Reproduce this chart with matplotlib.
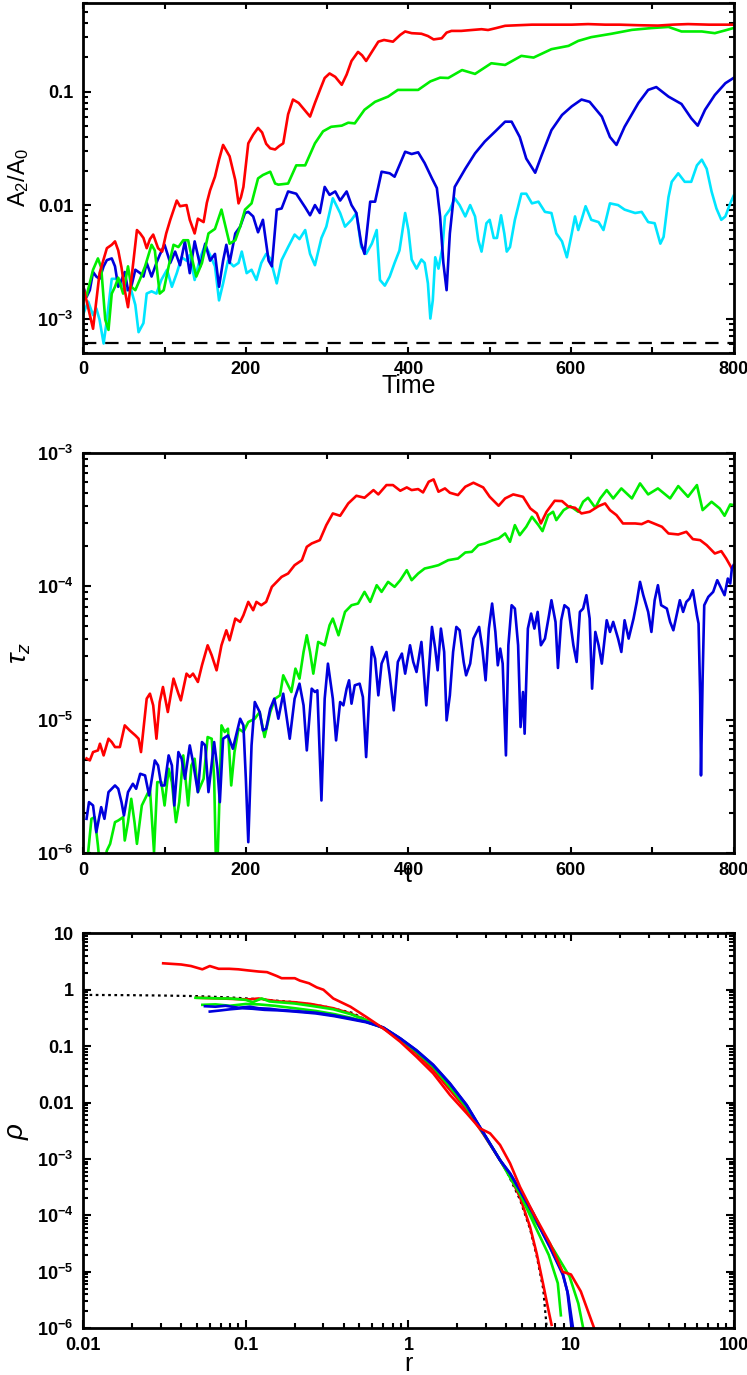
import numpy as np
import matplotlib
matplotlib.use("Agg")
import matplotlib.pyplot as plt
from matplotlib.ticker import FixedLocator, FixedFormatter, MultipleLocator, LogLocator, NullFormatter

plt.rcParams['font.family'] = ['Liberation Sans', 'DejaVu Sans']
plt.rcParams['mathtext.fontset'] = 'custom'
plt.rcParams['mathtext.rm'] = 'Liberation Sans'
plt.rcParams['mathtext.it'] = 'Liberation Sans:italic'
plt.rcParams['mathtext.bf'] = 'Liberation Sans:bold'

RED = '#ff0000'
GREEN = '#00ee00'
BLUE = '#0000dd'
CYAN = '#00e5ff'

# ---------------- Panel 1: A2/A0 vs Time (values as log10) ----------------
a2_red_t = [0,12,20,29,35,39,43,47,51,55,60,66,70,74,78,82,86,92,97,102,107,115,119,127,131,137,141,148,152,156,162,167,172,180,187,191,194,197,203,209,215,220,225,230,236,241,246,252,258,265,272,279,285,292,297,303,310,318,324,330,338,343,348,355,363,370,381,390,396,404,416,424,431,441,447,453,465,478,490,498,508,519,535,552,575,601,621,642,660,683,707,725,744,770,800]
a2_red_log = [-2.72,-3.09,-2.6,-2.38,-2.35,-2.32,-2.4,-2.55,-2.75,-2.9,-2.6,-2.22,-2.25,-2.29,-2.38,-2.3,-2.26,-2.38,-2.41,-2.25,-2.13,-1.96,-2.01,-2.0,-2.13,-2.25,-2.12,-2.15,-1.98,-1.87,-1.75,-1.6,-1.47,-1.57,-1.78,-1.985,-1.93,-1.84,-1.456,-1.38,-1.32,-1.36,-1.46,-1.5,-1.51,-1.48,-1.456,-1.2,-1.07,-1.1,-1.16,-1.22,-1.1,-0.97,-0.88,-0.84,-0.87,-0.94,-0.85,-0.73,-0.65,-0.68,-0.73,-0.65,-0.56,-0.545,-0.56,-0.5,-0.47,-0.485,-0.49,-0.51,-0.54,-0.53,-0.48,-0.465,-0.465,-0.457,-0.45,-0.457,-0.44,-0.42,-0.415,-0.41,-0.41,-0.41,-0.405,-0.41,-0.41,-0.415,-0.418,-0.41,-0.405,-0.41,-0.41]

a2_green_t = [0,4,12,18,22,27,31,35,39,43,49,55,59,64,70,76,84,88,94,99,105,111,117,123,129,135,139,146,154,162,170,176,180,187,193,199,207,215,221,230,236,240,252,262,273,285,295,305,318,326,334,346,359,375,387,396,412,427,439,449,466,482,502,519,539,554,576,597,609,625,650,675,699,720,736,761,777,790,800]
a2_green_log = [-2.84,-2.8,-2.57,-2.47,-2.55,-3.01,-3.10,-2.78,-2.72,-2.64,-2.78,-2.54,-2.72,-2.75,-2.65,-2.54,-2.35,-2.4,-2.78,-2.75,-2.54,-2.35,-2.37,-2.31,-2.31,-2.51,-2.63,-2.51,-2.25,-2.21,-2.04,-2.22,-2.34,-2.31,-2.19,-2.04,-1.985,-1.765,-1.735,-1.706,-1.81,-1.82,-1.81,-1.65,-1.65,-1.456,-1.35,-1.31,-1.30,-1.274,-1.28,-1.16,-1.09,-1.044,-0.985,-0.985,-0.985,-0.91,-0.877,-0.88,-0.81,-0.844,-0.75,-0.765,-0.685,-0.7,-0.626,-0.597,-0.553,-0.52,-0.49,-0.456,-0.44,-0.43,-0.47,-0.47,-0.485,-0.46,-0.44]

a2_blue_t = [0,4,8,12,16,20,25,29,35,39,43,47,51,55,59,64,70,74,78,84,90,94,100,107,113,119,125,131,137,144,150,156,162,167,172,176,180,187,193,199,203,209,215,221,228,232,238,244,252,262,273,279,285,291,297,303,310,316,324,330,336,342,346,353,359,367,377,383,396,404,412,420,429,435,439,443,447,451,457,470,482,494,507,519,527,537,545,556,564,576,589,601,613,623,638,648,656,666,683,695,705,720,736,748,756,765,777,790,800]
a2_blue_log = [-2.72,-2.81,-2.75,-2.59,-2.63,-2.65,-2.54,-2.485,-2.47,-2.54,-2.72,-2.66,-2.59,-2.75,-2.72,-2.57,-2.60,-2.63,-2.51,-2.63,-2.51,-2.44,-2.35,-2.51,-2.41,-2.53,-2.32,-2.6,-2.32,-2.54,-2.34,-2.49,-2.43,-2.72,-2.49,-2.35,-2.51,-2.25,-2.19,-2.07,-2.06,-2.1,-2.24,-2.13,-2.49,-2.54,-2.04,-2.03,-1.88,-1.90,-2.02,-2.09,-2.0,-2.07,-1.84,-1.91,-1.88,-1.96,-1.88,-2.0,-2.07,-2.34,-2.43,-1.97,-1.97,-1.706,-1.72,-1.75,-1.53,-1.55,-1.535,-1.63,-1.765,-1.85,-2.1,-2.51,-2.75,-2.25,-1.84,-1.68,-1.544,-1.44,-1.35,-1.265,-1.265,-1.40,-1.59,-1.715,-1.56,-1.34,-1.206,-1.13,-1.07,-1.09,-1.22,-1.40,-1.47,-1.31,-1.10,-0.985,-0.96,-1.044,-1.109,-1.235,-1.30,-1.16,-1.03,-0.926,-0.88]

a2_cyan_t = [0,6,12,16,20,25,29,35,41,47,53,59,64,68,74,78,84,90,96,103,109,115,121,127,131,137,144,150,156,162,167,172,178,185,191,195,201,207,213,219,225,230,238,244,252,260,266,273,279,285,293,299,307,316,322,330,336,342,348,355,361,365,371,377,383,389,396,400,404,410,416,420,424,427,430,433,437,442,445,451,457,463,470,476,482,486,490,496,500,505,509,514,518,521,525,531,539,545,552,560,568,576,582,589,595,601,605,609,613,618,625,634,640,648,658,666,679,687,695,703,710,714,720,724,732,740,748,755,761,767,773,779,785,790,796,800]
a2_cyan_log = [-2.96,-2.85,-2.97,-2.91,-3.01,-3.22,-3.01,-2.65,-2.65,-2.69,-2.75,-2.75,-2.88,-3.12,-3.04,-2.78,-2.76,-2.78,-2.66,-2.57,-2.72,-2.60,-2.46,-2.49,-2.44,-2.66,-2.46,-2.35,-2.44,-2.54,-2.84,-2.69,-2.49,-2.54,-2.51,-2.41,-2.60,-2.57,-2.66,-2.51,-2.43,-2.47,-2.69,-2.485,-2.37,-2.26,-2.3,-2.22,-2.43,-2.53,-2.29,-2.19,-1.94,-2.07,-2.19,-2.13,-2.07,-2.37,-2.43,-2.34,-2.22,-2.66,-2.71,-2.63,-2.51,-2.40,-2.07,-2.22,-2.48,-2.56,-2.48,-2.51,-2.69,-3.0,-2.84,-2.46,-2.56,-2.37,-2.10,-2.04,-1.94,-2.0,-2.10,-2.0,-2.10,-2.31,-2.41,-2.16,-2.13,-2.29,-2.29,-2.09,-2.25,-2.41,-2.37,-2.13,-1.9,-1.9,-1.985,-1.97,-2.06,-2.07,-2.25,-2.32,-2.46,-2.25,-2.10,-2.22,-2.13,-2.01,-2.13,-2.15,-2.22,-1.985,-2.0,-2.04,-2.07,-2.06,-2.15,-2.16,-2.34,-2.28,-1.93,-1.795,-1.72,-1.795,-1.795,-1.65,-1.6,-1.68,-1.88,-2.03,-2.13,-2.10,-1.985,-1.92]

a2_floor = 6.1e-4
a2_yticks = [1e-3, 1e-2, 1e-1]
a2_yticklabels = [r'$\mathbf{10^{-3}}$', '0.01', '0.1']

# ---------------- Panel 2: tau_z vs t (log10 values) ----------------
tz_red_t = [4,8,12,18,20.5,25,31,35,39,45,51,57,64,68,71,78,82,86,90,94,98,104,111,117,120,127,131,135,141,146,153,158,164,170,176,180,187,193,197,203,209,213,219,225,232,238,244,252,260,269,275,281,291,299,307,316,326,336,346,357,363,373,381,390,398,404,412,418,425,431,437,445,451,461,470,480,492,500,511,519,529,541,550,558,563,570,580,589,597,605,613,623,634,642,648,656,664,679,687,695,712,720,732,742,750,759,767,777,785,791,798]
tz_red_log = [-5.29,-5.305,-5.2425,-5.23,-5.18,-5.2675,-5.1425,-5.1675,-5.205,-5.205,-5.0425,-5.08,-5.1175,-5.1425,-5.2425,-4.8425,-4.805,-4.8925,-5.1425,-4.8675,-4.755,-4.9425,-4.6925,-4.805,-4.855,-4.655,-4.68,-4.655,-4.7175,-4.5925,-4.4425,-4.5175,-4.63,-4.4425,-4.33,-4.405,-4.2425,-4.2675,-4.2175,-4.1175,-4.18,-4.1175,-4.1425,-4.1175,-4.005,-3.9675,-3.93,-3.905,-3.8425,-3.805,-3.705,-3.68,-3.655,-3.5425,-3.455,-3.4725,-3.38,-3.3225,-3.3375,-3.28,-3.3125,-3.2425,-3.2425,-3.285,-3.26,-3.28,-3.2725,-3.2975,-3.2175,-3.20,-3.2925,-3.2675,-3.30,-3.3175,-3.255,-3.225,-3.26,-3.33,-3.3975,-3.3425,-3.3125,-3.33,-3.4175,-3.455,-3.53,-3.4425,-3.36,-3.3625,-3.405,-3.4125,-3.455,-3.4425,-3.40,-3.38,-3.43,-3.4675,-3.53,-3.53,-3.535,-3.5125,-3.555,-3.605,-3.6125,-3.5925,-3.6475,-3.655,-3.6925,-3.755,-3.7375,-3.7925,-3.8675]

tz_green_t = [3,6,10,14,18,22,29,33,39,43,49,51,55,59,63,66,72,78,82,87,91,96,100,105,109,114,118,123,129,133,137,141,148,153,158,161,164,167,170,174,178,182,186,191,197,203,211,217,223,230,236,242,246,252,256,261,266,271,275,279,283,289,297,303,307,314,322,330,338,346,353,361,367,375,383,390,398,404,412,420,429,437,449,461,470,478,486,494,504,511,519,525,531,537,545,552,560,565,572,578,582,591,599,609,615,621,630,636,644,652,662,675,685,695,707,722,732,744,755,762,773,783,789,796,800]
tz_green_log = [-6.3,-5.9925,-5.7425,-5.73,-5.9425,-6.2,-5.98,-5.93,-5.7675,-5.755,-5.73,-5.905,-5.7675,-5.5925,-5.7675,-5.93,-5.6425,-5.5675,-5.5175,-5.9925,-5.4675,-5.4675,-5.6425,-5.3675,-5.4675,-5.7675,-5.6175,-5.2675,-5.6425,-5.3425,-5.2925,-5.5425,-5.4425,-5.13,-5.1425,-5.4425,-6.3,-5.6925,-5.0425,-5.0925,-5.0675,-5.4925,-5.2425,-5.0675,-5.0925,-5.0175,-4.9925,-4.9425,-5.13,-4.9425,-4.8425,-4.8175,-4.6675,-4.7425,-4.7925,-4.6175,-4.6925,-4.4925,-4.3675,-4.4925,-4.655,-4.4175,-4.4425,-4.2925,-4.2425,-4.3675,-4.1925,-4.1425,-4.13,-4.0425,-4.1175,-3.9925,-4.0425,-3.9675,-4.005,-3.955,-3.88,-3.955,-3.905,-3.8675,-3.855,-3.8425,-3.805,-3.7925,-3.7475,-3.7425,-3.6925,-3.68,-3.655,-3.6425,-3.605,-3.6675,-3.5425,-3.6175,-3.555,-3.48,-3.5425,-3.5875,-3.4675,-3.4425,-3.505,-3.43,-3.40,-3.4425,-3.3675,-3.3375,-3.4125,-3.3425,-3.28,-3.3425,-3.2675,-3.3425,-3.23,-3.3125,-3.2675,-3.3425,-3.25,-3.33,-3.2425,-3.43,-3.3675,-3.4175,-3.4725,-3.3875,-3.3925]

tz_blue_t = [4,7,12,16,22,26,31,35,39,43,47,50,55,61,65,70,76,81,88,92,96,100,105,109,112,117,121,125,131,135,141,146,150,154,161,165,168,172,178,184,189,193,197,200,203,207,211,217,221,225,230,235,240,246,254,260,266,271,275,281,285,288,293,297,301,307,311,316,320,324,327,330,334,340,344,348,355,359,363,367,373,377,382,387,392,396,402,406,410,416,418,422,429,433,436,440,444,447,451,455,459,463,468,471,476,480,484,487,491,495,499,503,507,510,513,516,520,523,527,531,535,538,541,543,547,551,555,559,563,568,573,576,581,584,588,592,597,603,607,611,615,619,623,626,630,634,638,644,648,652,658,662,666,671,677,681,685,689,695,699,703,707,711,718,722,726,730,734,738,742,746,750,755,757,759,760,762,764,769,775,780,785,789,793,796,798,800]
tz_blue_log = [-5.7425,-5.6175,-5.6425,-5.8425,-5.655,-5.7425,-5.5425,-5.5175,-5.4925,-5.5175,-5.6175,-5.7175,-5.5425,-5.48,-5.5175,-5.405,-5.4175,-5.5675,-5.305,-5.3425,-5.4925,-5.4925,-5.2675,-5.3425,-5.6425,-5.2425,-5.2925,-5.4425,-5.1925,-5.3175,-5.5425,-5.1675,-5.1925,-5.5425,-5.1675,-5.3675,-5.6175,-5.1425,-5.1175,-5.2175,-5.0925,-4.9925,-5.0425,-5.4425,-5.9175,-5.1925,-4.8675,-4.9425,-5.08,-5.0675,-4.9175,-4.8425,-4.9925,-4.805,-5.1425,-4.8425,-4.73,-4.8925,-5.23,-4.7675,-4.7925,-4.78,-5.605,-4.8425,-4.58,-4.8425,-5.155,-4.8675,-4.8925,-4.7675,-4.705,-4.88,-4.7425,-4.73,-4.83,-5.28,-4.455,-4.5425,-4.8175,-4.58,-4.4925,-4.6675,-4.93,-4.5675,-4.505,-4.655,-4.4425,-4.5675,-4.6425,-4.4175,-4.5675,-4.8925,-4.305,-4.4675,-4.63,-4.3175,-4.4925,-5.005,-4.8175,-4.4925,-4.305,-4.33,-4.5675,-4.6675,-4.58,-4.3925,-4.3425,-4.305,-4.4675,-4.705,-4.3175,-4.13,-4.3425,-4.5925,-4.4675,-4.58,-5.2675,-4.4425,-4.1425,-4.1675,-4.4425,-5.055,-4.7925,-5.105,-4.3175,-4.205,-4.3175,-4.1925,-4.4425,-4.3925,-4.2175,-4.105,-4.2675,-4.6125,-4.255,-4.1425,-4.1675,-4.4425,-4.5675,-4.1925,-4.1675,-4.0675,-4.2425,-4.7675,-4.3425,-4.4425,-4.58,-4.255,-4.3425,-4.2675,-4.3925,-4.4925,-4.255,-4.3925,-4.2425,-4.1175,-3.9675,-4.0675,-4.1925,-4.3425,-4.105,-3.9925,-4.1425,-4.1675,-4.2675,-4.33,-4.2175,-4.105,-4.1925,-4.1175,-4.0925,-4.03,-4.2175,-4.28,-4.8175,-5.4175,-4.6925,-4.1425,-4.08,-4.0425,-3.955,-4.0175,-4.0675,-3.9425,-3.98,-3.8675,-3.8425]

tz_yticks = [1e-6, 1e-5, 1e-4, 1e-3]
tz_yticklabels = [r'$\mathbf{10^{-6}}$', r'$\mathbf{10^{-5}}$', r'$\mathbf{10^{-4}}$', r'$\mathbf{10^{-3}}$']

# ---------------- Panel 3: density profiles rho(r) ----------------
rho_dot_r = [0.01, 0.02, 0.03, 0.05, 0.08, 0.12, 0.2, 0.3, 0.45, 0.7, 1.0, 1.5, 2.0, 3.0, 4.0, 4.86, 5.6, 6.16, 6.75, 7.1]
rho_dot_v = [0.81, 0.80, 0.79, 0.77, 0.73, 0.68, 0.60, 0.51, 0.39, 0.207, 0.10, 0.034, 0.0135, 2.4e-3, 6.3e-4, 1.9e-4, 5.8e-5, 1.9e-5, 5e-6, 1e-6]

rho_red1_r = [0.031, 0.040, 0.046, 0.054, 0.060, 0.068, 0.079, 0.09, 0.103, 0.12, 0.135, 0.155, 0.166, 0.2, 0.215, 0.245, 0.273, 0.30, 0.345, 0.44, 0.55, 0.70, 0.89, 1.12, 1.42, 1.80, 2.28, 2.75, 3.18, 3.66, 4.22, 4.86, 5.87, 7.43, 8.9, 10.0, 11.5, 13.9]
rho_red1_v = [2.94, 2.8, 2.63, 2.3, 2.63, 2.35, 2.35, 2.3, 2.2, 2.1, 2.05, 1.75, 1.6, 1.6, 1.45, 1.3, 1.1, 1.0, 0.70, 0.50, 0.33, 0.207, 0.12, 0.065, 0.033, 0.0137, 6.5e-3, 3.5e-3, 2.85e-3, 1.78e-3, 8.4e-4, 3.2e-4, 1.1e-4, 3.2e-5, 1.0e-5, 9.0e-6, 4.5e-6, 1.0e-6]

rho_red2_r = [0.05, 0.07, 0.09, 0.106, 0.12, 0.135, 0.16, 0.2, 0.25, 0.345, 0.44, 0.55, 0.70, 0.89, 1.12, 1.42, 1.80, 2.28, 2.87, 3.66, 4.22, 4.86, 5.6, 6.16, 6.75, 7.2, 7.6]
rho_red2_v = [0.72, 0.70, 0.68, 0.676, 0.70, 0.66, 0.62, 0.60, 0.56, 0.47, 0.38, 0.29, 0.207, 0.129, 0.075, 0.038, 0.0168, 7.4e-3, 2.85e-3, 9.6e-4, 4.9e-4, 2.1e-4, 6.3e-5, 2.1e-5, 6e-6, 2.4e-6, 1.15e-6]

rho_green1_r = [0.049, 0.06, 0.07, 0.08, 0.09, 0.1, 0.11, 0.125, 0.14, 0.16, 0.2, 0.25, 0.345, 0.44, 0.55, 0.70, 0.89, 1.12, 1.42, 1.80, 2.28, 2.87, 3.66, 4.22, 4.86, 5.87, 7.3, 8.3, 8.67]
rho_green1_v = [0.72, 0.71, 0.70, 0.70, 0.68, 0.66, 0.60, 0.70, 0.62, 0.60, 0.57, 0.52, 0.45, 0.37, 0.29, 0.212, 0.135, 0.08, 0.043, 0.019, 8.2e-3, 2.95e-3, 9.6e-4, 4.7e-4, 2.4e-4, 7.5e-5, 2.0e-5, 6.3e-6, 1.7e-6]

rho_green2_r = [0.054, 0.065, 0.08, 0.1, 0.12, 0.15, 0.2, 0.27, 0.35, 0.44, 0.55, 0.70, 0.89, 1.12, 1.42, 1.80, 2.28, 2.87, 3.66, 4.22, 4.86, 5.87, 7.8, 9.8, 11.1, 11.9]
rho_green2_v = [0.54, 0.55, 0.52, 0.56, 0.55, 0.52, 0.47, 0.42, 0.37, 0.32, 0.27, 0.212, 0.135, 0.082, 0.045, 0.021, 8.7e-3, 3.0e-3, 9.6e-4, 5.3e-4, 2.6e-4, 9.0e-5, 2.5e-5, 8.3e-6, 2.75e-6, 1.0e-6]

rho_blue1_r = [0.056, 0.065, 0.075, 0.09, 0.106, 0.12, 0.14, 0.16, 0.2, 0.273, 0.35, 0.44, 0.55, 0.70, 0.89, 1.12, 1.42, 1.80, 2.28, 2.87, 3.66, 4.22, 4.86, 5.87, 6.75, 7.43, 8.9, 9.6, 10.3]
rho_blue1_v = [0.51, 0.50, 0.52, 0.48, 0.50, 0.47, 0.46, 0.44, 0.42, 0.39, 0.35, 0.31, 0.27, 0.215, 0.138, 0.085, 0.047, 0.022, 9.1e-3, 3.05e-3, 9.6e-4, 5.6e-4, 2.8e-4, 1.1e-4, 4.8e-5, 2.8e-5, 9.5e-6, 4.0e-6, 1.0e-6]

rho_blue2_r = [0.06, 0.07, 0.08, 0.095, 0.11, 0.13, 0.16, 0.2, 0.27, 0.35, 0.44, 0.55, 0.70, 0.89, 1.12, 1.42, 1.80, 2.28, 2.87, 3.66, 4.22, 4.86, 5.87, 6.75, 7.43, 8.9, 9.5, 10.1]
rho_blue2_v = [0.41, 0.43, 0.45, 0.47, 0.46, 0.44, 0.43, 0.41, 0.38, 0.34, 0.30, 0.265, 0.213, 0.137, 0.084, 0.046, 0.0215, 9.0e-3, 3.0e-3, 9.5e-4, 5.5e-4, 2.75e-4, 1.05e-4, 4.6e-5, 2.7e-5, 9.0e-6, 4.5e-6, 1.0e-6]

rho_yticks = [1e-6, 1e-5, 1e-4, 1e-3, 1e-2, 1e-1, 1, 10]
rho_yticklabels = [r'$\mathbf{10^{-6}}$', r'$\mathbf{10^{-5}}$', r'$\mathbf{10^{-4}}$', r'$\mathbf{10^{-3}}$', '0.01', '0.1', '1', '10']
r_xticks = [0.01, 0.1, 1, 10, 100]
r_xticklabels = ['0.01', '0.1', '1', '10', '100']

# ---------------- Figure ----------------
W, H = 747, 1375
fig = plt.figure(figsize=(W/100, H/100), dpi=100)

def axrect(x0, y0, x1, y1):
    return [x0/W, 1 - y1/H, (x1-x0)/W, (y1-y0)/H]

ax1 = fig.add_axes(axrect(83.3, 2.5, 733.5, 352.7))
ax2 = fig.add_axes(axrect(83.3, 452.7, 733.5, 853.2))
ax3 = fig.add_axes(axrect(83.3, 933.3, 733.5, 1328.3))

LW = 1.9
TFS = 13
LFS = 18

def style(ax):
    for s in ax.spines.values():
        s.set_linewidth(2.0)
    ax.tick_params(which='both', direction='in', top=True, right=True, width=1.5, labelsize=TFS)
    ax.tick_params(which='major', length=6)
    ax.tick_params(which='minor', length=3.5)
    for lab in ax.get_xticklabels() + ax.get_yticklabels():
        lab.set_fontweight('bold')

def ylab(ax, text, fs, yc):
    ax.set_ylabel(text, fontsize=fs)
    ax.yaxis.label.set_va('center')
    ax.yaxis.set_label_coords(yc, 0.5)

def xlab(ax, text, top_px, ax_bottom_px, ax_h_px):
    ax.set_xlabel(text, fontsize=LFS)
    ax.xaxis.label.set_va('top')
    ax.xaxis.set_label_coords(0.5, -(top_px - ax_bottom_px) / ax_h_px)

# Panel 1
ax1.plot(a2_cyan_t, 10**np.array(a2_cyan_log), color=CYAN, lw=LW)
ax1.plot(a2_blue_t, 10**np.array(a2_blue_log), color=BLUE, lw=LW)
ax1.plot(a2_green_t, 10**np.array(a2_green_log), color=GREEN, lw=LW)
ax1.plot(a2_red_t, 10**np.array(a2_red_log), color=RED, lw=LW)
ax1.axhline(a2_floor, color='black', lw=1.6, ls=(0, (6, 4)))
ax1.set_yscale('log')
ax1.set_xlim(0, 800)
ax1.set_ylim(5e-4, 0.61)
ax1.yaxis.set_major_locator(FixedLocator(a2_yticks))
ax1.yaxis.set_major_formatter(FixedFormatter(a2_yticklabels))
ax1.yaxis.set_minor_locator(LogLocator(base=10, subs=np.arange(2, 10)))
ax1.yaxis.set_minor_formatter(NullFormatter())
ax1.xaxis.set_major_locator(MultipleLocator(200))
ax1.xaxis.set_minor_locator(MultipleLocator(100))
style(ax1)
ax1.tick_params(axis='x', which='both', length=4.5, pad=6)
ax1.tick_params(axis='y', pad=7)
xlab(ax1, 'Time', 374, 352.7, 350.2)
ylab(ax1, r'A$_2$/A$_0$', 17, -0.1)

# Panel 2
ax2.plot(tz_green_t, 10**np.array(tz_green_log), color=GREEN, lw=LW)
ax2.plot(tz_red_t, 10**np.array(tz_red_log), color=RED, lw=LW)
ax2.plot(tz_blue_t, 10**np.array(tz_blue_log), color=BLUE, lw=LW)
ax2.set_yscale('log')
ax2.set_xlim(0, 800)
ax2.set_ylim(1e-6, 1e-3)
ax2.yaxis.set_major_locator(FixedLocator(tz_yticks))
ax2.yaxis.set_major_formatter(FixedFormatter(tz_yticklabels))
ax2.yaxis.set_minor_locator(LogLocator(base=10, subs=np.arange(2, 10)))
ax2.yaxis.set_minor_formatter(NullFormatter())
ax2.xaxis.set_major_locator(MultipleLocator(200))
ax2.xaxis.set_minor_locator(MultipleLocator(100))
style(ax2)
ax2.tick_params(axis='x', which='both', length=4.5, pad=6)
ax2.tick_params(axis='y', pad=7)
xlab(ax2, 't', 863, 853.2, 400.5)
ylab(ax2, r'$\tau_z$', 20, -0.098)

# Panel 3
ax3.plot(rho_dot_r, rho_dot_v, color='black', lw=1.6, ls=(0, (1.2, 1.6)))
ax3.plot(rho_red2_r, rho_red2_v, color=RED, lw=LW)
ax3.plot(rho_green1_r, rho_green1_v, color=GREEN, lw=LW)
ax3.plot(rho_green2_r, rho_green2_v, color=GREEN, lw=LW)
ax3.plot(rho_blue2_r, rho_blue2_v, color=BLUE, lw=LW)
ax3.plot(rho_blue1_r, rho_blue1_v, color=BLUE, lw=LW)
ax3.plot(rho_red1_r, rho_red1_v, color=RED, lw=LW)
ax3.set_xscale('log')
ax3.set_yscale('log')
ax3.set_xlim(0.01, 100)
ax3.set_ylim(1e-6, 10)
ax3.xaxis.set_major_locator(FixedLocator(r_xticks))
ax3.xaxis.set_major_formatter(FixedFormatter(r_xticklabels))
ax3.yaxis.set_major_locator(FixedLocator(rho_yticks))
ax3.yaxis.set_major_formatter(FixedFormatter(rho_yticklabels))
for a in (ax3.xaxis, ax3.yaxis):
    a.set_minor_locator(LogLocator(base=10, subs=np.arange(2, 10), numticks=20))
    a.set_minor_formatter(NullFormatter())
style(ax3)
ax3.tick_params(axis='x', pad=6)
ax3.tick_params(axis='y', pad=7)
xlab(ax3, 'r', 1352, 1328.3, 395.0)
ylab(ax3, r'$\rho$', 20, -0.1)

fig.savefig('out.png', dpi=100)
